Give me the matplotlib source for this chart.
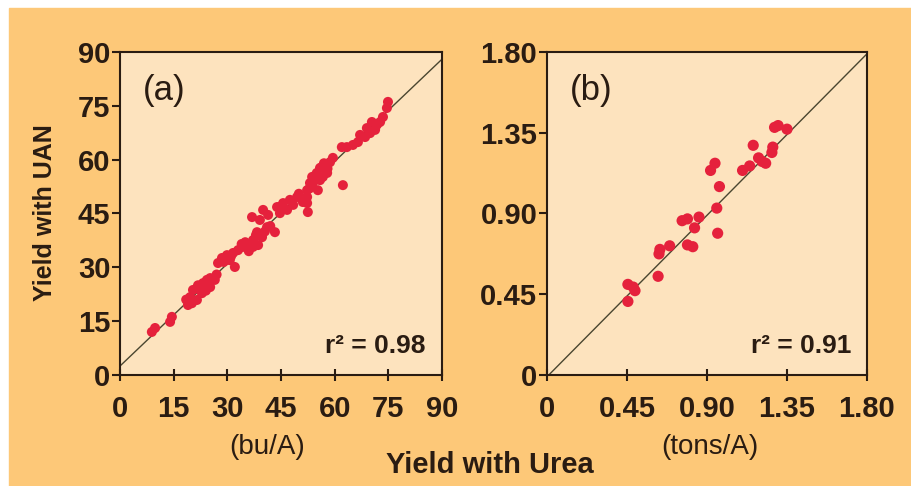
import matplotlib.pyplot as plt
import matplotlib.patches as patches

# Panel (a): yield in bu/A (Urea on x, UAN on y)
a_urea = [8.9, 9.8, 14.0, 14.5, 19.0, 19.6, 20.4, 21.8, 23.2, 24.3, 25.2, 26.5,
          21.5, 22.9, 25.2, 20.1, 27.4, 28.5, 29.9, 31.6, 32.1, 30.7, 33.0, 34.4,
          35.8, 37.2, 38.3, 36.9, 39.1, 39.7, 41.1, 38.6, 37.2, 40.0, 41.4, 43.3,
          43.9, 45.6, 47.5, 49.5, 51.1, 46.7, 44.7, 48.4, 52.5, 52.3, 52.3, 53.1,
          53.7, 55.0, 55.9, 57.3, 58.7, 59.5, 53.9, 55.9, 57.9, 55.3, 56.7, 52.3,
          62.3, 62.0, 63.4, 65.1, 66.5, 68.5, 69.9, 71.3, 72.7, 73.5, 74.6, 74.9,
          71.8, 69.0, 70.4, 67.1, 18.5, 22.0, 24.0, 29.0, 34.0, 36.0, 38.0, 42.0,
          50.0, 54.5, 56.5, 58.0, 27.0, 31.0, 35.0, 37.5, 40.5, 45.0, 53.0, 57.0]
a_uan = [12.0, 13.1, 14.8, 16.2, 19.5, 21.7, 23.7, 25.0, 25.6, 26.5, 27.0, 26.5,
         20.9, 22.8, 24.5, 20.0, 31.2, 32.6, 33.4, 34.0, 30.1, 32.0, 34.8, 35.7,
         36.2, 37.6, 39.8, 44.0, 43.2, 38.4, 41.2, 36.2, 35.7, 46.0, 44.6, 39.8,
         46.8, 47.9, 48.8, 49.6, 48.2, 46.0, 45.1, 47.4, 45.4, 49.6, 51.5, 53.5,
         55.2, 56.3, 57.7, 58.5, 59.3, 60.5, 53.5, 54.3, 56.3, 51.5, 55.2, 47.9,
         52.9, 63.5, 63.5, 64.1, 64.9, 66.3, 67.4, 68.3, 70.5, 71.9, 74.4, 76.1,
         69.7, 68.8, 70.5, 66.9, 21.0, 24.0, 23.5, 31.5, 36.5, 34.5, 39.0, 41.5,
         50.5, 55.0, 58.0, 57.5, 28.0, 33.0, 37.0, 36.5, 40.0, 47.0, 52.0, 59.0]

# Panel (b): yield in tons/A
b_urea = [1.30, 1.35, 1.16, 1.27, 1.265, 1.19, 1.23, 1.14, 1.10, 0.945, 0.92,
          0.97, 0.955, 0.96, 0.855, 0.79, 0.76, 0.83, 0.79, 0.82, 0.69, 0.635,
          0.63, 0.625, 0.455, 0.495, 0.455, 0.485, 1.28, 1.21]
b_uan = [1.39, 1.37, 1.28, 1.27, 1.24, 1.21, 1.18, 1.165, 1.14, 1.18, 1.14,
         1.05, 0.93, 0.79, 0.88, 0.87, 0.86, 0.82, 0.725, 0.715, 0.72, 0.70,
         0.675, 0.55, 0.505, 0.47, 0.41, 0.49, 1.38, 1.19]

a_ticks = [0, 15, 30, 45, 60, 75, 90]
a_ticklabels = ["0", "15", "30", "45", "60", "75", "90"]
b_ticks = [0, 0.45, 0.90, 1.35, 1.80]
b_ticklabels = ["0", "0.45", "0.90", "1.35", "1.80"]

# fitted lines (slope, intercept)
a_fit = (0.95, 2.5)
b_fit = (1.0, -0.01)

plt.rcParams["font.family"] = ["Liberation Sans", "DejaVu Sans"]

bg = "#FDC878"
panel = "#FDE3BE"
red = "#E5213C"
dark = "#2A1C12"

fig = plt.figure(figsize=(9.12, 4.86), dpi=100)
fig.patches.append(patches.Rectangle((9 / 912, 0), 1 - 9 / 912, 1 - 8 / 486,
                                     transform=fig.transFigure, color=bg, zorder=-10))

ax_a = fig.add_axes([120 / 912, 1 - 375 / 486, 322 / 912, 323 / 486])
ax_b = fig.add_axes([547 / 912, 1 - 375 / 486, 320 / 912, 323 / 486])


def style(ax, ticks, labels, lim):
    ax.set_facecolor(panel)
    ax.set_xlim(0, lim)
    ax.set_ylim(0, lim)
    ax.set_xticks(ticks)
    ax.set_yticks(ticks)
    ax.set_xticklabels(labels)
    ax.set_yticklabels(labels)
    for s in ax.spines.values():
        s.set_color(dark)
        s.set_linewidth(1.5)
    ax.tick_params(axis="x", direction="inout", length=9, width=1.5, color=dark,
                   labelsize=21, labelcolor=dark, pad=10)
    ax.tick_params(axis="y", direction="out", length=6, width=1.5, color=dark,
                   labelsize=21, labelcolor=dark, pad=1)
    for lab in ax.get_xticklabels() + ax.get_yticklabels():
        lab.set_fontweight("bold")


style(ax_a, a_ticks, a_ticklabels, 90)
style(ax_b, b_ticks, b_ticklabels, 1.80)

# panel (a)
ax_a.plot([0, 90], [a_fit[1], a_fit[0] * 90 + a_fit[1]], color="#4A4630", lw=1, zorder=2)
ax_a.scatter(a_urea, a_uan, s=52, color=red, edgecolors="none", zorder=3)
ax_a.text(0.07, 0.88, "(a)", transform=ax_a.transAxes, fontsize=25, color=dark,
          va="center", ha="left")
ax_a.text(0.95, 0.09, "r² = 0.98", transform=ax_a.transAxes, fontsize=19,
          fontweight="bold", color=dark, ha="right", va="center")

# panel (b)
ax_b.plot([0, 1.80], [b_fit[1], b_fit[0] * 1.80 + b_fit[1]], color="#4A4630", lw=1, zorder=2)
ax_b.scatter(b_urea, b_uan, s=65, color=red, edgecolors="none", zorder=3)
ax_b.text(0.07, 0.88, "(b)", transform=ax_b.transAxes, fontsize=25, color=dark,
          va="center", ha="left")
ax_b.text(0.95, 0.09, "r² = 0.91", transform=ax_b.transAxes, fontsize=19,
          fontweight="bold", color=dark, ha="right", va="center")

# axis titles and unit labels
fig.text(45 / 912, 1 - 213 / 486, "Yield with UAN", fontsize=18, fontweight="bold",
         color=dark, ha="center", va="center", rotation=90)
fig.text(267 / 912, 1 - 447 / 486, "(bu/A)", fontsize=20, color=dark,
         ha="center", va="center")
fig.text(710 / 912, 1 - 447 / 486, "(tons/A)", fontsize=20, color=dark,
         ha="center", va="center")
fig.text(490 / 912, 1 - 465 / 486, "Yield with Urea", fontsize=21, fontweight="bold",
         color=dark, ha="center", va="center")

fig.savefig("out.png", dpi=100)
